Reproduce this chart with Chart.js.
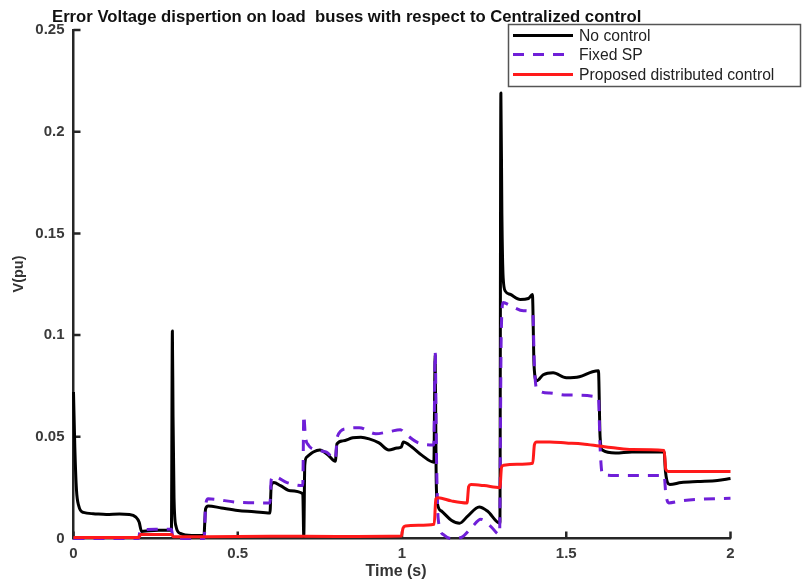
<!DOCTYPE html>
<html lang="en">
  <head>
    <meta charset="UTF-8" />
    <title>Error Voltage dispertion</title>
    <script src="https://cdn.jsdelivr.net/npm/chart.js@4"></script>
    <style>
      * {
        margin: 0;
        padding: 0;
        box-sizing: border-box;
      }
      body {
        background: #ffffff;
        width: 802px;
        height: 585px;
        overflow: hidden;
      }
    </style>
  </head>
  <body>
    <canvas id="errChart" width="802" height="585"></canvas>
    <script>
      // axis ticks
      const xTicks = [0, 0.5, 1, 1.5, 2];
      const xTickLabels = ["0", "0.5", "1", "1.5", "2"];
      const yTicks = [0, 0.05, 0.1, 0.15, 0.2, 0.25];
      const yTickLabels = ["0", "0.05", "0.1", "0.15", "0.2", "0.25"];

      const seriesNames = ["No control", "Fixed SP", "Proposed distributed control"];

      // No control
      const noCtrlT = [
        0, 0.004, 0.009, 0.016, 0.03, 0.06, 0.1, 0.14, 0.17, 0.19,
        0.2, 0.207, 0.23, 0.26, 0.298, 0.301, 0.303, 0.306, 0.312, 0.325,
        0.36, 0.397, 0.402, 0.41, 0.45, 0.5, 0.55, 0.598, 0.602, 0.61,
        0.63, 0.66, 0.698, 0.701, 0.704, 0.71, 0.73, 0.75, 0.775, 0.797,
        0.802, 0.82, 0.85, 0.875, 0.9, 0.93, 0.96, 0.985, 0.998, 1.004,
        1.03, 1.06, 1.097, 1.101, 1.104, 1.108, 1.12, 1.15, 1.175, 1.2,
        1.235, 1.26, 1.298, 1.301, 1.304, 1.308, 1.315, 1.33, 1.36, 1.385,
        1.397, 1.402, 1.41, 1.43, 1.46, 1.5, 1.54, 1.58, 1.598, 1.603,
        1.61, 1.65, 1.7, 1.75, 1.798, 1.802, 1.815, 1.85, 1.9, 1.96,
        2.0,
      ];
      const noCtrlV = [
        0.072, 0.045, 0.024, 0.016, 0.0128, 0.0122, 0.0118, 0.012, 0.0118, 0.0105,
        0.008, 0.0035, 0.0038, 0.004, 0.004, 0.102, 0.06, 0.02, 0.006, 0.0025,
        0.0015, 0.0015, 0.0145, 0.016, 0.015, 0.0138, 0.0132, 0.0125, 0.026, 0.0275,
        0.026, 0.0235, 0.022, 0.001, 0.036, 0.04, 0.0425, 0.0435, 0.041, 0.038,
        0.0465, 0.048, 0.0495, 0.0498, 0.049, 0.047, 0.0435, 0.0445, 0.045, 0.0475,
        0.045, 0.041, 0.0375, 0.09, 0.03, 0.017, 0.0135, 0.009, 0.0075, 0.011,
        0.0155, 0.0135, 0.0075, 0.219, 0.16, 0.128, 0.1215, 0.12, 0.1175, 0.118,
        0.12, 0.085, 0.0775, 0.0805, 0.0815, 0.079, 0.0795, 0.082, 0.0825, 0.05,
        0.0435, 0.042, 0.0425, 0.0425, 0.0425, 0.033, 0.0265, 0.0275, 0.028, 0.0285,
        0.0295,
      ];

      // Fixed SP
      const fixedT = [
        0, 0.198, 0.203, 0.25, 0.298, 0.303, 0.35, 0.398, 0.402, 0.41,
        0.5, 0.598, 0.602, 0.61, 0.65, 0.698, 0.701, 0.706, 0.715, 0.74,
        0.77, 0.797, 0.803, 0.83, 0.87, 0.92, 0.96, 0.995, 1.01, 1.05,
        1.097, 1.101, 1.105, 1.11, 1.125, 1.15, 1.18, 1.21, 1.24, 1.27,
        1.297, 1.302, 1.308, 1.33, 1.37, 1.398, 1.403, 1.41, 1.45, 1.5,
        1.598, 1.603, 1.61, 1.65, 1.7, 1.798, 1.803, 1.812, 1.85, 1.9,
        2.0,
      ];
      const fixedV = [
        0, 0, 0.004, 0.0045, 0.0045, 0.0005, 0, 0, 0.016, 0.0195,
        0.0178, 0.0175, 0.029, 0.0305, 0.0275, 0.026, 0.0605, 0.05, 0.046, 0.0435,
        0.0425, 0.039, 0.05, 0.054, 0.0545, 0.0515, 0.0525, 0.0535, 0.0515, 0.047,
        0.046, 0.0915, 0.04, 0.01, 0.002, 0, 0.0005, 0.005, 0.0095, 0.006,
        0.002, 0.1, 0.116, 0.1145, 0.112, 0.111, 0.085, 0.0735, 0.0715, 0.0705,
        0.0695, 0.045, 0.0315, 0.031, 0.031, 0.031, 0.022, 0.0175, 0.0185, 0.0192,
        0.0198,
      ];

      // Proposed distributed control
      const distT = [
        0, 0.198, 0.205, 0.298, 0.305, 0.4, 0.6, 0.8, 0.998, 1.003,
        1.01, 1.05, 1.098, 1.103, 1.11, 1.15, 1.198, 1.203, 1.21, 1.25,
        1.298, 1.303, 1.31, 1.35, 1.398, 1.403, 1.41, 1.45, 1.5, 1.55,
        1.6, 1.65, 1.7, 1.798, 1.803, 1.81, 1.9, 2.0,
      ];
      const distV = [
        0.0005, 0.0005, 0.002, 0.002, 0.0008, 0.0008, 0.0011, 0.001, 0.0012, 0.005,
        0.0062, 0.0065, 0.007, 0.0195, 0.02, 0.0185, 0.0175, 0.0255, 0.0265, 0.026,
        0.025, 0.035, 0.036, 0.0365, 0.037, 0.046, 0.0475, 0.0475, 0.047, 0.0465,
        0.0455, 0.0445, 0.0438, 0.0433, 0.034, 0.033, 0.033, 0.033,
      ];

      const toPoints = (ts, vs) => ts.map((t, i) => ({ x: t, y: vs[i] }));

      const FONT = "'Liberation Sans', Arial, sans-serif";
      const axisColor = "#262626";

      // title, axis labels, legend box and inward tick marks
      const extras = {
        id: "extras",
        beforeDatasetsDraw(chart) {
          const { ctx, chartArea, scales } = chart;
          ctx.save();
          ctx.strokeStyle = axisColor;
          ctx.lineWidth = 2.5;
          ctx.beginPath();
          yTicks.forEach((v) => {
            const py = scales.y.getPixelForValue(v);
            ctx.moveTo(chartArea.left, py);
            ctx.lineTo(chartArea.left + 7, py);
          });
          xTicks.forEach((v) => {
            const px = scales.x.getPixelForValue(v);
            ctx.moveTo(px, chartArea.bottom);
            ctx.lineTo(px, chartArea.bottom - 7);
          });
          ctx.stroke();
          ctx.restore();
        },
        afterDraw(chart) {
          const { ctx } = chart;
          ctx.save();
          // title
          ctx.fillStyle = "#111";
          ctx.font = "bold 16.7px " + FONT;
          ctx.textBaseline = "alphabetic";
          ctx.fillText(
            "Error Voltage dispertion on load  buses with respect to Centralized control",
            52,
            22
          );
          // axis labels
          ctx.fillStyle = "#333";
          ctx.font = "bold 16px " + FONT;
          ctx.textAlign = "center";
          ctx.textBaseline = "middle";
          ctx.fillText("Time (s)", 396, 572);
          ctx.save();
          ctx.translate(19, 274);
          ctx.rotate(-Math.PI / 2);
          ctx.font = "bold 14.5px " + FONT;
          ctx.fillText("V(pu)", 0, 0);
          ctx.restore();
          ctx.textAlign = "left";
          // legend
          ctx.fillStyle = "#fff";
          ctx.fillRect(508.5, 24.5, 292, 62);
          ctx.strokeStyle = "#555";
          ctx.lineWidth = 1.5;
          ctx.strokeRect(508.5, 24.5, 292, 62);
          const rows = [35.5, 54.5, 74.5];
          chart.data.datasets.forEach((ds, r) => {
            ctx.beginPath();
            ctx.strokeStyle = ds.borderColor;
            ctx.lineWidth = ds.borderWidth;
            ctx.setLineDash(ds.borderDash || []);
            ctx.moveTo(513, rows[r]);
            ctx.lineTo(573, rows[r]);
            ctx.stroke();
            ctx.setLineDash([]);
            ctx.fillStyle = "#222";
            ctx.font = "15.7px " + FONT;
            ctx.textBaseline = "middle";
            ctx.fillText(ds.label, 579, rows[r] + 1);
          });
          ctx.restore();
        },
      };

      new Chart(document.getElementById("errChart"), {
        type: "line",
        data: {
          datasets: [
            {
              label: seriesNames[0],
              data: toPoints(noCtrlT, noCtrlV),
              borderColor: "#000000",
              borderWidth: 3,
              order: 3,
            },
            {
              label: seriesNames[1],
              data: toPoints(fixedT, fixedV),
              borderColor: "#6f1fd8",
              borderWidth: 3,
              borderDash: [11, 9],
              order: 2,
            },
            {
              label: seriesNames[2],
              data: toPoints(distT, distV),
              borderColor: "#ff1a1a",
              borderWidth: 3,
              order: 1,
            },
          ],
        },
        options: {
          responsive: false,
          animation: false,
          devicePixelRatio: 1,
          layout: { padding: { left: 0, right: 71.5, top: 30, bottom: 0 } },
          elements: {
            point: { radius: 0, hoverRadius: 0 },
            line: { cubicInterpolationMode: "monotone", fill: false, borderCapStyle: "butt", borderJoinStyle: "round" },
          },
          datasets: { line: { clip: 4 } },
          plugins: {
            legend: { display: false },
            title: { display: false },
            tooltip: { enabled: false },
          },
          scales: {
            x: {
              type: "linear",
              min: 0,
              max: 2,
              afterBuildTicks: (s) => {
                s.ticks = xTicks.map((v) => ({ value: v }));
              },
              afterFit: (s) => {
                s.height = 46.5;
              },
              ticks: {
                callback: (v, i) => xTickLabels[i],
                font: { family: FONT, size: 15, weight: "bold" },
                color: "#3a3a3a",
                padding: 6,
                maxRotation: 0,
                autoSkip: false,
              },
              grid: { display: false, drawTicks: false },
              border: { display: true, color: axisColor, width: 2.5 },
            },
            y: {
              type: "linear",
              min: 0,
              max: 0.25,
              afterBuildTicks: (s) => {
                s.ticks = yTicks.map((v) => ({ value: v }));
              },
              afterFit: (s) => {
                s.width = 73.5;
              },
              ticks: {
                callback: (v, i) => yTickLabels[i],
                font: { family: FONT, size: 15, weight: "bold" },
                color: "#3a3a3a",
                padding: 9,
                autoSkip: false,
              },
              grid: { display: false, drawTicks: false },
              border: { display: true, color: axisColor, width: 2.5 },
            },
          },
        },
        plugins: [extras],
      });
    </script>
  </body>
</html>
